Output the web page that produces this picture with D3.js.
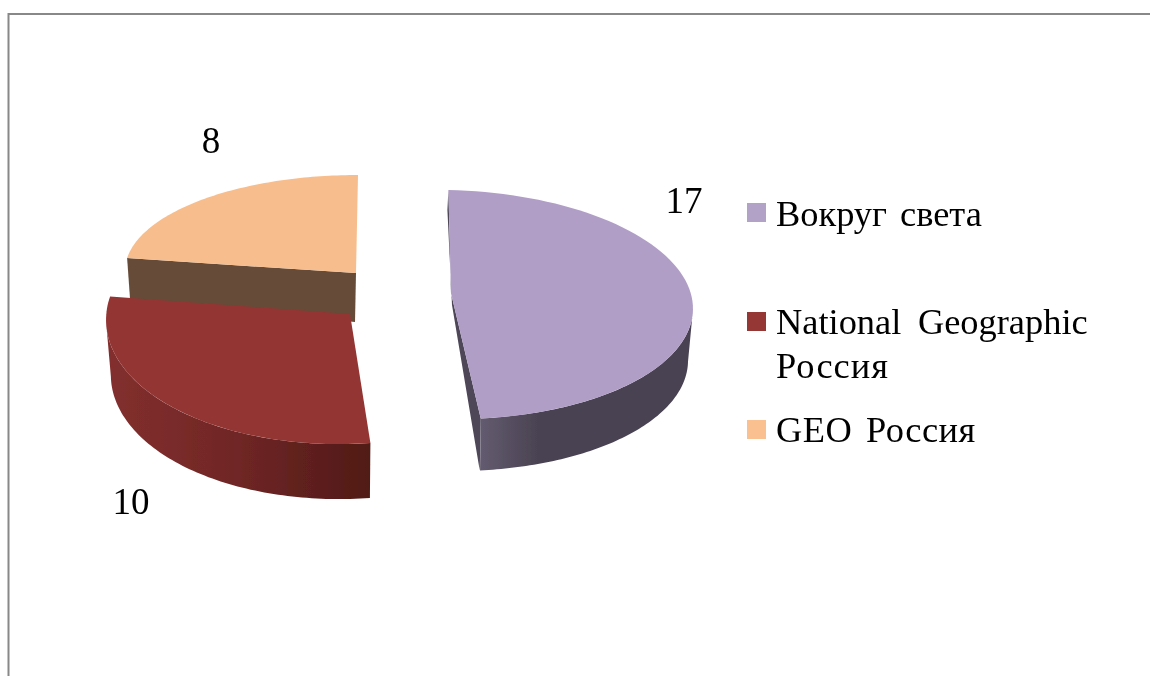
<!DOCTYPE html>
<html lang="ru">
<head>
<meta charset="UTF-8">
<title>Журналы</title>
<script src="https://d3js.org/d3.v7.min.js"></script>
<style>
    html, body { margin: 0; padding: 0; background: #fff; overflow: hidden; }
    svg { display: block; font-family: "Liberation Serif", serif; }
</style>
</head>
<body>
<div id="my_dataviz"></div>
<script>

//data
var categories = ["Вокруг света", "National Geographic Россия", "GEO Россия"];
var values = [17, 10, 8];
var topColors = ["#b09ec6", "#933533", "#f7bd8c"];
var legendColors = ["#b3a2c7", "#953735", "#fac090"];

//where each exploded slice sits on the page (ellipse of the tilted disc)
//startTurn/endTurn: degrees the perspective moves the cut edges along the rim
var sliceLayout = [
    {cx: 446, cy: 304.5, rx: 247, ry: 114.5, tilt: 1.2, apexX: 5, apexY: -11.5, depth: 52, startTurn: 0, endTurn: -3.5},
    {cx: 346, cy: 316, rx: 240, ry: 128, tilt: -1.3, apexX: 4, apexY: -2, depth: 55, startTurn: 0, endTurn: 3.5},
    {cx: 358, cy: 271, rx: 233, ry: 96, tilt: 0, apexX: -2, apexY: 2, depth: 47, startTurn: 0, endTurn: 0}
];
var rimNarrowing = 0.02; //lower rim is a bit narrower than the top one

var svg = d3.select("#my_dataviz")
    .append("svg")
        .attr("width", 1150)
        .attr("height", 676);

var defs = svg.append("defs");

//the reference is a soft upscaled picture
defs.append("filter")
    .attr("id", "soft")
    .attr("filterUnits", "userSpaceOnUse")
    .attr("x", 0).attr("y", 0)
    .attr("width", 1150).attr("height", 676)
    .append("feGaussianBlur")
        .attr("stdDeviation", 0.5);

var root = svg.append("g").attr("filter", "url(#soft)");

function sideGradient(id, x1, x2, stops) {
    var g = defs.append("linearGradient")
        .attr("id", id)
        .attr("gradientUnits", "userSpaceOnUse")
        .attr("x1", x1).attr("x2", x2)
        .attr("y1", 0).attr("y2", 0);
    stops.forEach(function(s) {
        g.append("stop").attr("offset", s[0]).attr("stop-color", s[1]);
    });
}
sideGradient("sidePurple", 483, 560, [[0, "#625a6e"], [0.7, "#4a4353"], [1, "#494252"]]);
sideGradient("sideRed", 106, 368, [[0, "#832f2e"], [0.5, "#702625"], [1, "#511a17"]]);

//frame of the chart area
root.append("path")
    .attr("d", "M8.5,676V14H1150")
    .attr("fill", "none")
    .attr("stroke", "#888888")
    .attr("stroke-width", 2);

var pie = d3.pie().sort(null).value(function(d) { return d; });
var arcs = pie(values).map(function(a, i) {
    var s = sliceLayout[i];
    return {
        startAngle: a.startAngle + s.startTurn * Math.PI / 180,
        endAngle: a.endAngle + s.endTurn * Math.PI / 180
    };
});

var line = d3.line()
    .x(function(d) { return d[0]; })
    .y(function(d) { return d[1]; });

function onEllipse(s, t) {
    var a = s.rx * Math.sin(t), b = -s.ry * Math.cos(t);
    var phi = s.tilt * Math.PI / 180;
    return [s.cx + a * Math.cos(phi) - b * Math.sin(phi),
            s.cy + a * Math.sin(phi) + b * Math.cos(phi)];
}

function arcPoints(s, t0, t1) {
    var n = 80;
    return d3.range(n + 1).map(function(i) {
        return onEllipse(s, t0 + (t1 - t0) * i / n);
    });
}

function lowerRim(points, s) {
    return points.map(function(p) {
        return [p[0] + (s.cx - p[0]) * rimNarrowing, p[1] + s.depth];
    });
}

function apexOf(s) { return [s.cx + s.apexX, s.cy + s.apexY]; }

var chart = root.append("g");

//orange slice: only its cut wall shows
var s2 = sliceLayout[2], a2 = arcs[2];
var corner2 = onEllipse(s2, a2.startAngle), apex2 = apexOf(s2);
chart.append("path")
    .attr("d", line([corner2, apex2, [apex2[0] - 1, apex2[1] + 49], [corner2[0] + 3, corner2[1] + 42]]) + "Z")
    .attr("fill", "#654c38");
chart.append("path")
    .attr("d", line([apex2].concat(arcPoints(s2, a2.startAngle, a2.endAngle))) + "Z")
    .attr("fill", topColors[2]);

//red slice
var s1 = sliceLayout[1], a1 = arcs[1];
var rim1 = arcPoints(s1, a1.startAngle, Math.min(a1.endAngle, Math.PI * 1.5));
chart.append("path")
    .attr("d", line(rim1.concat(lowerRim(rim1, s1).reverse())) + "Z")
    .attr("fill", "url(#sideRed)");
chart.append("path")
    .attr("d", line([apexOf(s1)].concat(arcPoints(s1, a1.startAngle, a1.endAngle))) + "Z")
    .attr("fill", topColors[1]);

//purple slice
var s0 = sliceLayout[0], a0 = arcs[0];
var rim0 = arcPoints(s0, Math.PI / 2, a0.endAngle);
var apex0 = apexOf(s0), end0 = onEllipse(s0, a0.endAngle), start0 = onEllipse(s0, a0.startAngle);
chart.append("path")
    .attr("d", line(rim0.concat(lowerRim(rim0, s0).reverse())) + "Z")
    .attr("fill", "url(#sidePurple)");
chart.append("path")
    .attr("d", line([start0, [start0[0] - 1, start0[1] + 20], [apex0[0] + 1, apex0[1] + 12], [end0[0] - 1, end0[1] + s0.depth], end0, apex0]) + "Z")
    .attr("fill", "#4d4659");
chart.append("path")
    .attr("d", line([apex0].concat(arcPoints(s0, a0.startAngle, a0.endAngle))) + "Z")
    .attr("fill", topColors[0]);

//data labels
var labelX = [684, 131, 211];
var labelY = [213, 514, 153];
root.selectAll(".val")
    .data(values)
    .enter()
    .append("text")
        .attr("class", "val")
        .attr("x", function(d, i) { return labelX[i]; })
        .attr("y", function(d, i) { return labelY[i]; })
        .attr("text-anchor", "middle")
        .attr("font-size", 37)
        .attr("fill", "#000")
        .text(function(d) { return d; });

//legend
var legendTop = [203, 312, 420];
var legendLines = [[categories[0]], ["National Geographic", "Россия"], [categories[2]]];
var legendBase = [[226], [334, 378], [442]];
var legendWordGap = [[4], [7.5, 0], [4]];
var legendLetterGap = [[0], [0, 1], [0.5]];

var legend = root.selectAll(".legend")
    .data(categories)
    .enter()
    .append("g")
        .attr("class", "legend");

legend.append("rect")
    .attr("x", 747)
    .attr("y", function(d, i) { return legendTop[i]; })
    .attr("width", 19)
    .attr("height", 19)
    .attr("fill", function(d, i) { return legendColors[i]; });

legend.each(function(d, i) {
    d3.select(this).selectAll("text")
        .data(legendLines[i])
        .enter()
        .append("text")
            .attr("x", 776)
            .attr("y", function(t, j) { return legendBase[i][j]; })
            .attr("font-size", 36.4)
            .attr("word-spacing", function(t, j) { return legendWordGap[i][j]; })
            .attr("letter-spacing", function(t, j) { return legendLetterGap[i][j]; })
            .attr("fill", "#000")
            .text(function(t) { return t; });
});

</script>
</body>
</html>
